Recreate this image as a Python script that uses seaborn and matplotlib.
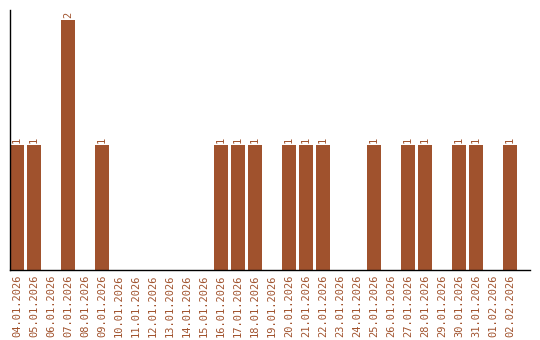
import matplotlib
matplotlib.use("Agg")
import matplotlib.pyplot as plt
import seaborn as sns
import pandas as pd

dates = ["04.01.2026", "05.01.2026", "06.01.2026", "07.01.2026", "08.01.2026",
         "09.01.2026", "10.01.2026", "11.01.2026", "12.01.2026", "13.01.2026",
         "14.01.2026", "15.01.2026", "16.01.2026", "17.01.2026", "18.01.2026",
         "19.01.2026", "20.01.2026", "21.01.2026", "22.01.2026", "23.01.2026",
         "24.01.2026", "25.01.2026", "26.01.2026", "27.01.2026", "28.01.2026",
         "29.01.2026", "30.01.2026", "31.01.2026", "01.02.2026", "02.02.2026"]
counts = [1, 1, 0, 2, 0, 1, 0, 0, 0, 0, 0, 0, 1, 1, 1, 0, 1, 1, 1, 0, 0, 1, 0, 1, 1, 0, 1, 1, 0, 1]

color = "#A0522D"
sns.set_style("white")
plt.rcParams["font.family"] = ["DejaVu Sans Mono", "DejaVu Sans"]

df = pd.DataFrame({"date": dates, "count": counts})
fig = plt.figure(figsize=(5.4, 3.4), dpi=100)
ax = fig.add_axes([10/540, 70/340, 520/540, 260/340])
sns.barplot(data=df, x="date", y="count", color=color, width=14/17, saturation=1,
            linewidth=0, edgecolor="none", ax=ax)

for i, v in enumerate(counts):
    if v > 0:
        ax.text(i, v + 0.02, str(v), rotation=90, ha="center", va="bottom",
                color=color, fontsize=7.5)

ax.set_xlim(-7/17, 30.18)
ax.set_ylim(0, 2.08)
ax.set_xlabel("")
ax.set_ylabel("")
ax.set_yticks([])
ax.tick_params(axis="x", length=0, pad=3, labelcolor=color, labelsize=7.5, labelrotation=90)
for s in ["top", "right"]:
    ax.spines[s].set_visible(False)
for s in ["left", "bottom"]:
    ax.spines[s].set_color("black")
    ax.spines[s].set_linewidth(1)
fig.savefig("out.png", dpi=100)
